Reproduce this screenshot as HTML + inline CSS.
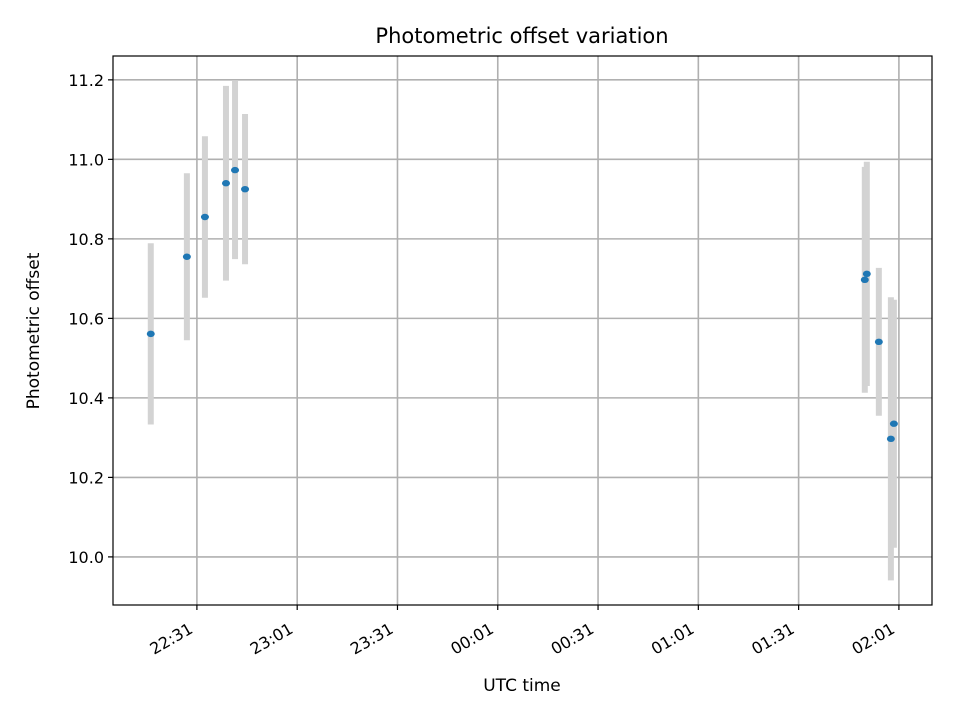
<!DOCTYPE html>
<html><head><meta charset="utf-8"><style>
body{margin:0;background:#fff}
text{font-family:"DejaVu Sans","Liberation Sans",sans-serif;fill:#000}
</style></head><body>
<svg id="chart" width="960" height="720" xmlns="http://www.w3.org/2000/svg">
<rect width="960" height="720" fill="#fff"/>
<g id="grid"></g>
<g id="bars"></g>
<g id="pts"></g>
<rect x="113" y="56" width="819" height="549" fill="none" stroke="#000" stroke-width="1.2"/>
<g id="axes"></g>
<text x="522" y="43" font-size="21" text-anchor="middle">Photometric offset variation</text>
<text x="522" y="691" font-size="17" text-anchor="middle">UTC time</text>
<text transform="translate(39,331) rotate(-90)" font-size="17" text-anchor="middle">Photometric offset</text>
</svg>
<script>
// minutes after 22:00 UTC
const times = [17.2, 28.0, 33.4, 39.7, 42.4, 45.4, 230.8, 231.4, 235.0, 238.6, 239.5];
const offsets = [10.561, 10.755, 10.855, 10.94, 10.973, 10.925, 10.697, 10.712, 10.541, 10.297, 10.335];
const errors = [0.228, 0.21, 0.203, 0.245, 0.224, 0.189, 0.284, 0.282, 0.186, 0.356, 0.312];
const xTicks = [31, 61, 91, 121, 151, 181, 211, 241];
const xTickLabels = ["22:31", "23:01", "23:31", "00:01", "00:31", "01:01", "01:31", "02:01"];
const yTicks = [10.0, 10.2, 10.4, 10.6, 10.8, 11.0, 11.2];

const X0=113,X1=932,Y0=56,Y1=605;
const xMin=5.9,xMax=250.9,yMin=9.879,yMax=11.26;
const sx=v=>X0+(v-xMin)/(xMax-xMin)*(X1-X0);
const sy=v=>Y1-(v-yMin)/(yMax-yMin)*(Y1-Y0);
const NS="http://www.w3.org/2000/svg";
function mk(tag,attrs,parent){const e=document.createElementNS(NS,tag);for(const k in attrs)e.setAttribute(k,attrs[k]);parent.appendChild(e);return e;}
const grid=document.getElementById('grid'),axes=document.getElementById('axes'),bars=document.getElementById('bars'),pts=document.getElementById('pts');
xTicks.forEach((t,i)=>{
  const x=sx(t);
  const g=mk('line',{x1:x,x2:x,y1:Y0,y2:Y1,stroke:'#b0b0b0','stroke-width':1.6},grid);
  
  
  const tk=mk('line',{x1:x,x2:x,y1:Y1,y2:Y1+5,stroke:'#000','stroke-width':1.2},axes);
  
  
  const tx=mk('text',{x:0,y:0,'font-size':16,'text-anchor':'end',transform:`translate(${x-3},${Y1+27}) rotate(-30)`},axes);
  tx.textContent=xTickLabels[i];
  
  
});
yTicks.forEach(t=>{
  const y=sy(t);
  const g=mk('line',{x1:X0,x2:X1,y1:y,y2:y,stroke:'#b0b0b0','stroke-width':1.6},grid);
  
  
  const tk=mk('line',{x1:X0-5,x2:X0,y1:y,y2:y,stroke:'#000','stroke-width':1.2},axes);
  
  
  const tx=mk('text',{x:X0-9,y:y+6,'font-size':16,'text-anchor':'end'},axes);
  tx.textContent=t.toFixed(1);
  
  
});
times.forEach((t,i)=>{
  const x=sx(t);
  const b=mk('line',{x1:x,x2:x,y1:sy(offsets[i]+errors[i]),y2:sy(offsets[i]-errors[i]),stroke:'#d3d3d3','stroke-width':6},bars);
  
  
  const c=mk('ellipse',{cx:x,cy:sy(offsets[i]),rx:4,ry:3.2,fill:'#1f77b4'},pts);
  
  
});
</script>
</body></html>
